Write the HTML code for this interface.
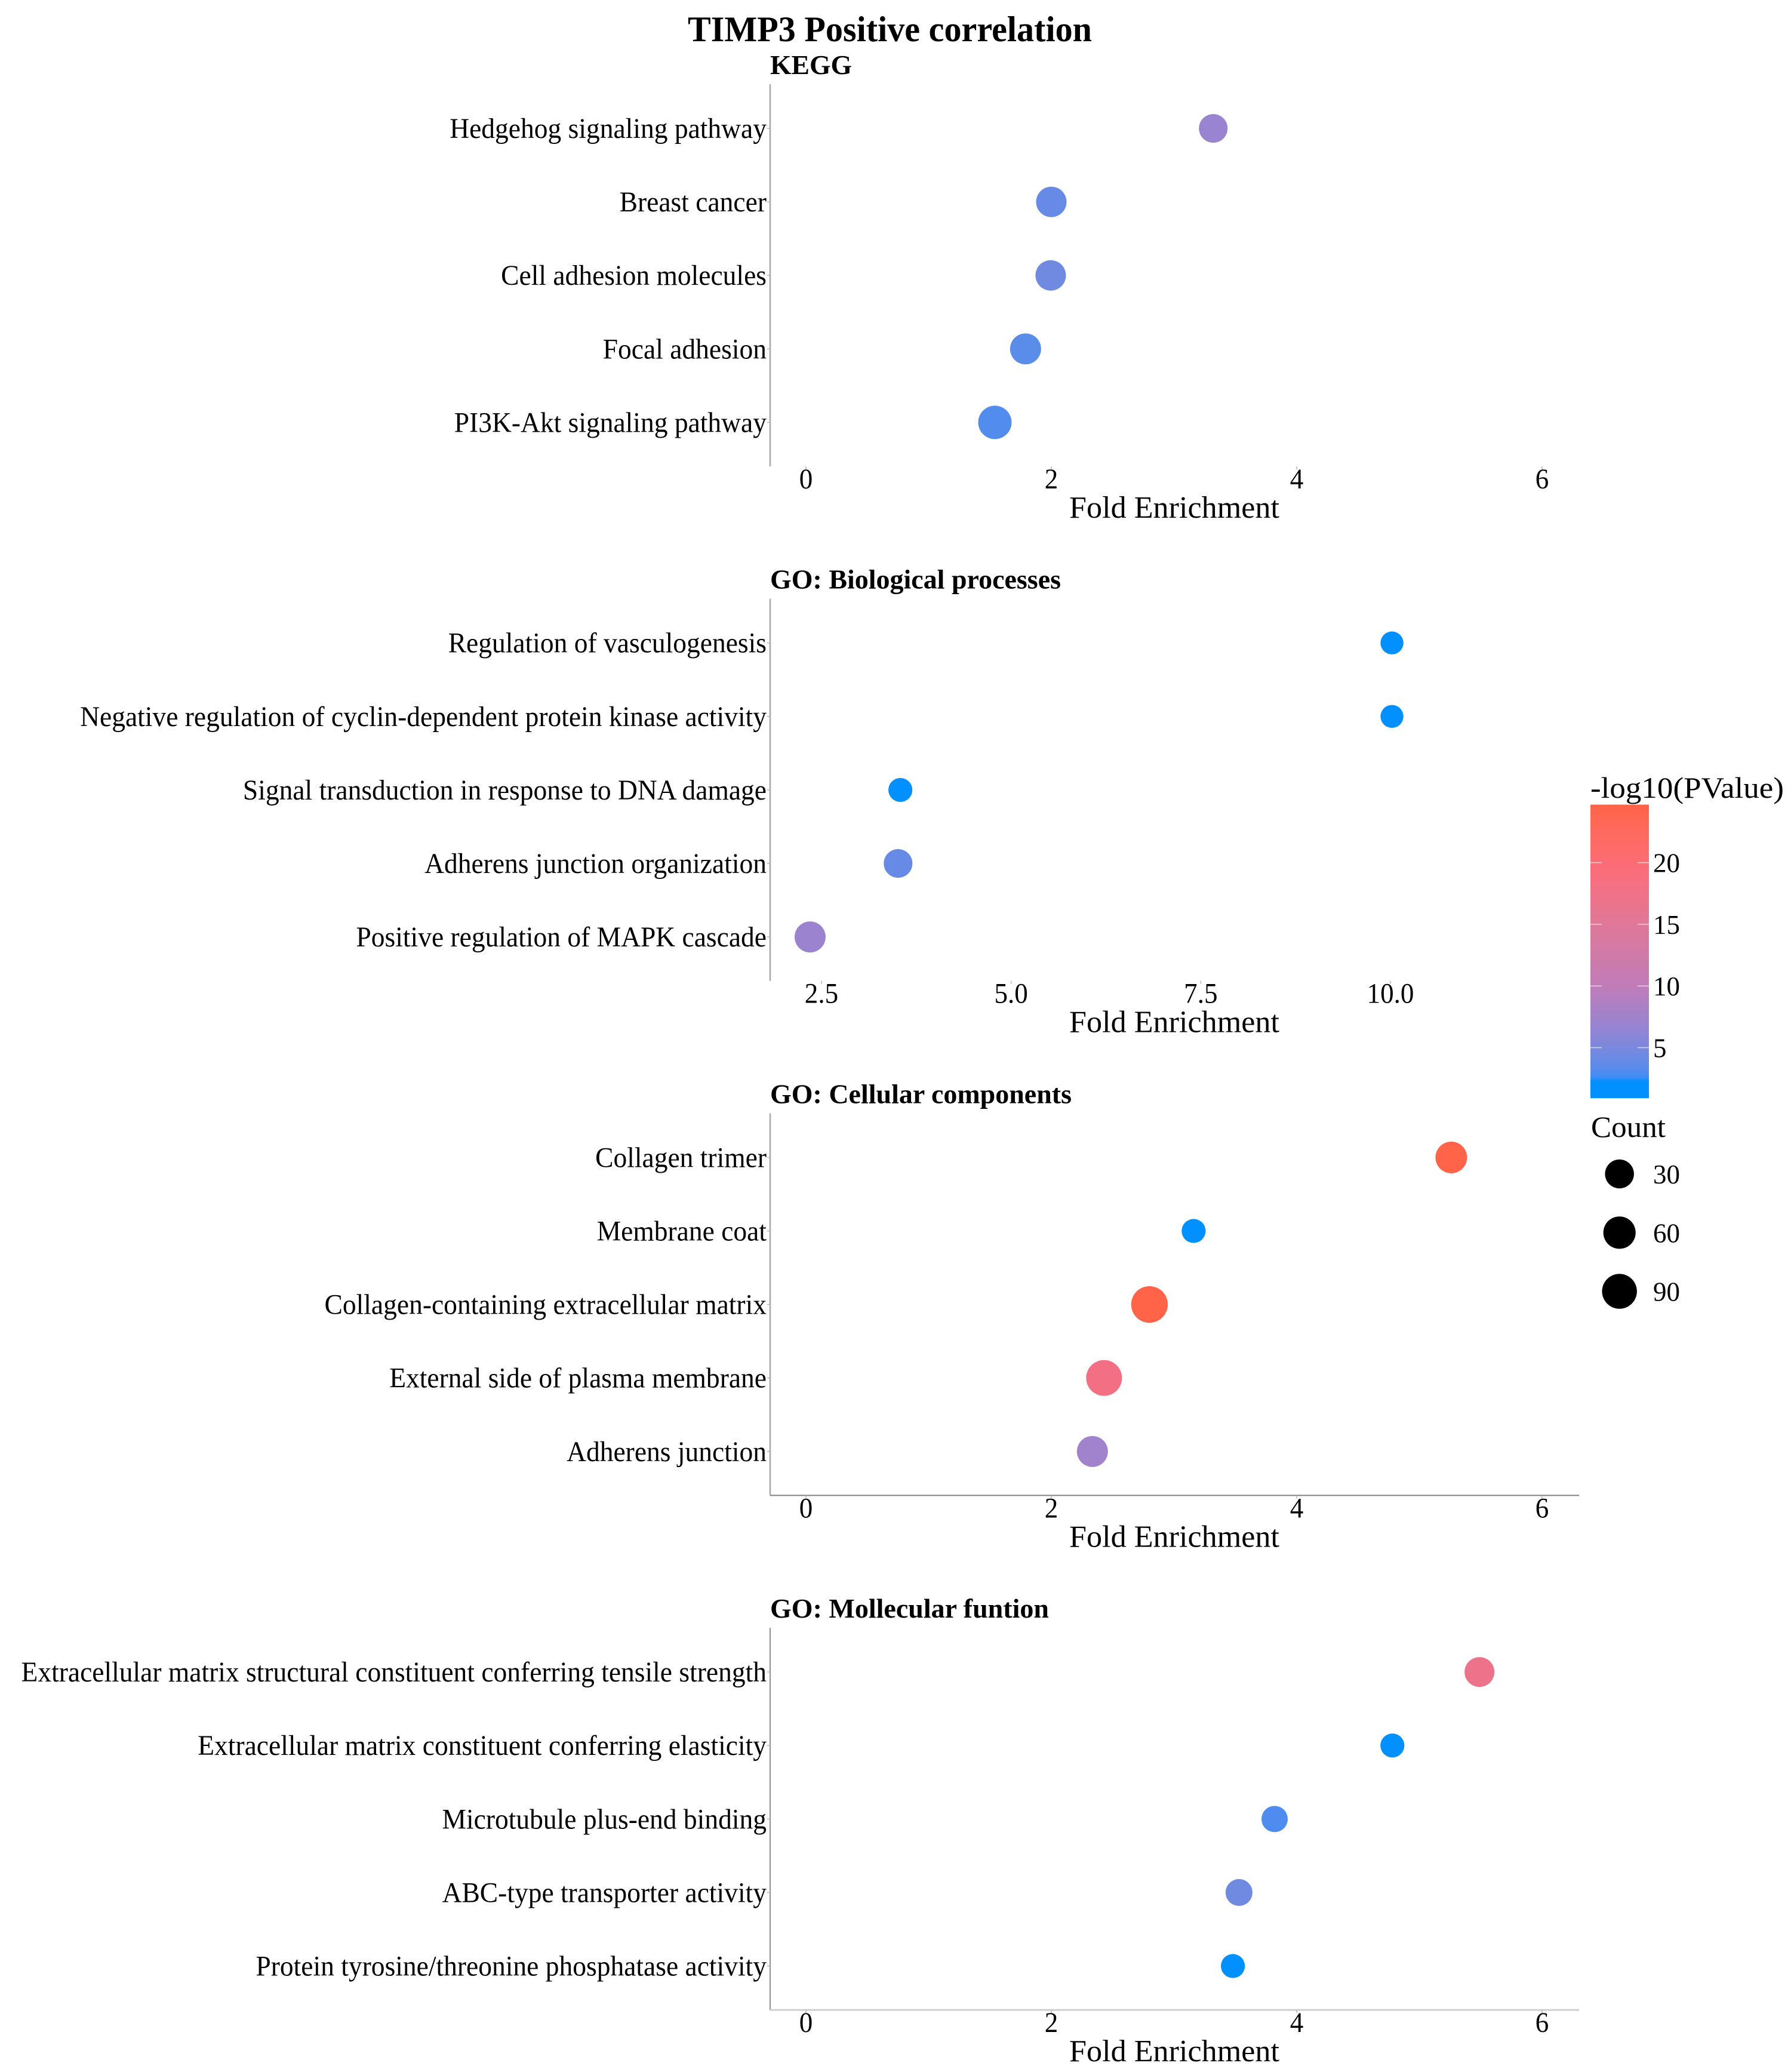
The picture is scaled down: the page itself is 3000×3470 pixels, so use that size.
<!DOCTYPE html>
<html lang="en">
<head>
<meta charset="utf-8">
<title>TIMP3 Positive correlation</title>
<style>
html,body{margin:0;padding:0;background:#fff;}
body{width:3000px;height:3470px;overflow:hidden;}
svg{display:block;}
text{font-family:"Liberation Serif","Times New Roman",serif;fill:#000;}
</style>
</head>
<body>
<svg id="chart" xmlns="http://www.w3.org/2000/svg" width="3000" height="3470" viewBox="0 0 3000 3470">
  <defs>
    <linearGradient id="pvalue-gradient" x1="0" y1="1" x2="0" y2="0"></linearGradient>
  </defs>
  <rect x="0" y="0" width="3000" height="3470" fill="#ffffff"></rect>
  <text x="1152" y="69" font-size="60" font-weight="700" textLength="677" lengthAdjust="spacingAndGlyphs">TIMP3 Positive correlation</text>
</svg>
<script>
// ---- data ----
const panelTitles = ['KEGG', 'GO: Biological processes', 'GO: Cellular components', 'GO: Mollecular funtion'];

const keggTerms = ['Hedgehog signaling pathway', 'Breast cancer', 'Cell adhesion molecules', 'Focal adhesion', 'PI3K-Akt signaling pathway'];
const keggFold = [3.32, 2.0, 1.995, 1.79, 1.54];
const keggCount = [28, 42, 42, 47, 72];
const keggLogP = [6.8, 4.0, 4.5, 3.4, 3.1];

const bioTerms = ['Regulation of vasculogenesis', 'Negative regulation of cyclin-dependent protein kinase activity', 'Signal transduction in response to DNA damage', 'Adherens junction organization', 'Positive regulation of MAPK cascade'];
const bioFold = [10.02, 10.02, 3.54, 3.51, 2.35];
const bioCount = [4, 4, 6, 28, 47];
const bioLogP = [1.5, 1.5, 2.0, 4.0, 7.0];

const cellTerms = ['Collagen trimer', 'Membrane coat', 'Collagen-containing extracellular matrix', 'External side of plasma membrane', 'Adherens junction'];
const cellFold = [5.26, 3.16, 2.80, 2.43, 2.335];
const cellCount = [53, 6, 114, 103, 47];
const cellLogP = [24.5, 1.5, 24.5, 18.0, 7.5];

const molTerms = ['Extracellular matrix structural constituent conferring tensile strength', 'Extracellular matrix constituent conferring elasticity', 'Microtubule plus-end binding', 'ABC-type transporter activity', 'Protein tyrosine/threonine phosphatase activity'];
const molFold = [5.49, 4.78, 3.82, 3.53, 3.48];
const molCount = [37, 6, 14, 17, 6];
const molLogP = [17.0, 1.5, 3.0, 4.5, 1.5];

const foldTicks = [0, 2, 4, 6];
const foldTickLabels = ['0', '2', '4', '6'];
const bioTicks = [2.5, 5, 7.5, 10];
const bioTickLabels = ['2.5', '5.0', '7.5', '10.0'];

const colorTicks = [5, 10, 15, 20];
const colorTickLabels = ['5', '10', '15', '20'];
const sizeTicks = [30, 60, 90];
const sizeTickLabels = ['30', '60', '90'];

const colorRampValues = [0.9, 2.27, 2.6, 3.2, 5, 6.3, 10, 15, 18.9, 22, 24.7];
const colorRampColors = ['#0090ff', '#0090ff', '#3f8df4', '#568cec', '#7a88dd', '#9285d5', '#c07cb8', '#e07898', '#f96e7e', '#ff6a62', '#ff6347'];

// ---- scales ----
const SVG_NS = 'http://www.w3.org/2000/svg';
const svg = document.getElementById('chart');

function panelTop(k) { return 141 + k * 861.7; }
function yBand(k, i) { return panelTop(k) + 74 + i * 123.1; }
function xFold(v) { return 1350 + v * 205.5; }
function xBio(v) { return 1376 + (v - 2.5) * 127.07; }
function sizeScale(c) { return 18 + 13 * Math.sqrt(Math.max(0, c - 3) / 117); }
function colorBarY(v) { return 1754.5 - (v - 5) * 20.66; }

function hexToRgb(h) {
  return [parseInt(h.slice(1, 3), 16), parseInt(h.slice(3, 5), 16), parseInt(h.slice(5, 7), 16)];
}
function colorScale(v) {
  const vs = colorRampValues;
  if (v <= vs[0]) return colorRampColors[0];
  for (let i = 1; i < vs.length; i++) {
    if (v <= vs[i]) {
      const t = (v - vs[i - 1]) / (vs[i] - vs[i - 1]);
      const a = hexToRgb(colorRampColors[i - 1]);
      const b = hexToRgb(colorRampColors[i]);
      const r = Math.round(a[0] + (b[0] - a[0]) * t);
      const g = Math.round(a[1] + (b[1] - a[1]) * t);
      const bl = Math.round(a[2] + (b[2] - a[2]) * t);
      return 'rgb(' + r + ',' + g + ',' + bl + ')';
    }
  }
  return colorRampColors[colorRampColors.length - 1];
}

function slug(s) { return String(s).toLowerCase().replace(/[^a-z0-9]+/g, '-').replace(/^-|-$/g, ''); }

function make(tag, attrs, parent, content) {
  const el = document.createElementNS(SVG_NS, tag);
  Object.keys(attrs).forEach(function (k) { el.setAttribute(k, attrs[k]); });
  if (content !== undefined) el.textContent = content;
  (parent || svg).appendChild(el);
  return el;
}

// The reference text is horizontally condensed relative to its height.
function condense(el, factor) {
  const w = el.getComputedTextLength();
  el.setAttribute('textLength', (w * factor).toFixed(2));
  el.setAttribute('lengthAdjust', 'spacingAndGlyphs');
}

const panels = [
  { terms: keggTerms, fold: keggFold, count: keggCount, logp: keggLogP, x: xFold, ticks: foldTicks, labels: foldTickLabels, titleW: 137, yStroke: '#a8a8a8', yWidth: 2.5, xStroke: null, xWidth: 0 },
  { terms: bioTerms, fold: bioFold, count: bioCount, logp: bioLogP, x: xBio, ticks: bioTicks, labels: bioTickLabels, titleW: 487, yStroke: '#a8a8a8', yWidth: 2.5, xStroke: null, xWidth: 0 },
  { terms: cellTerms, fold: cellFold, count: cellCount, logp: cellLogP, x: xFold, ticks: foldTicks, labels: foldTickLabels, titleW: 505, yStroke: '#a8a8a8', yWidth: 2.5, xStroke: '#808080', xWidth: 2 },
  { terms: molTerms, fold: molFold, count: molCount, logp: molLogP, x: xFold, ticks: foldTicks, labels: foldTickLabels, titleW: 467, yStroke: '#909090', yWidth: 2, xStroke: '#cfcfcf', xWidth: 3 }
];

panels.forEach(function (p, k) {
  const top = panelTop(k);
  const bottom = top + 640;
  const g = make('g', {});
  
  

  const title = make('text', { x: 1290, y: top - 17, 'font-size': 46, 'font-weight': 700, textLength: p.titleW, lengthAdjust: 'spacingAndGlyphs' }, g, panelTitles[k]);
  
  

  const yAxis = make('line', { x1: 1290, y1: top, x2: 1290, y2: bottom, stroke: p.yStroke, 'stroke-width': p.yWidth }, g);
  
  

  if (p.xStroke) {
    const xAxis = make('line', { x1: 1290, y1: bottom, x2: 2645, y2: bottom, stroke: p.xStroke, 'stroke-width': p.xWidth }, g);
    
    
  }

  p.ticks.forEach(function (t, i) {
    const px = p.x(t);
    const mark = make('line', { x1: px, y1: bottom, x2: px, y2: bottom + 5, stroke: '#b5b5b5', 'stroke-width': 1.5 }, g);
    
    
    const label = make('text', { x: px, y: top + 677, 'font-size': 48, 'text-anchor': 'middle' }, g, p.labels[i]);
    
    
    condense(label, 0.94);
  });

  const xTitle = make('text', { x: 1967, y: top + 726, 'font-size': 52, 'text-anchor': 'middle', textLength: 352, lengthAdjust: 'spacingAndGlyphs' }, g, 'Fold Enrichment');
  
  

  p.terms.forEach(function (term, i) {
    const cy = yBand(k, i);
    const mark = make('line', { x1: 1285, y1: cy, x2: 1290, y2: cy, stroke: '#b5b5b5', 'stroke-width': 1.5 }, g);
    
    
    const label = make('text', { x: 1284, y: cy + 16, 'font-size': 47.5, 'text-anchor': 'end' }, g, term);
    
    
    condense(label, 0.958);
    const dot = make('circle', { cx: p.x(p.fold[i]), cy: cy, r: sizeScale(p.count[i]), fill: colorScale(p.logp[i]) }, g);
    
    
  });
});

// ---- colour legend ----
const gradient = document.getElementById('pvalue-gradient');
colorRampValues.forEach(function (v, i) {
  const frac = (v - colorRampValues[0]) / (colorRampValues[colorRampValues.length - 1] - colorRampValues[0]);
  make('stop', { offset: (frac * 100).toFixed(2) + '%', 'stop-color': colorRampColors[i] }, gradient);
});

const colorLegend = make('g', {});



const colorTitle = make('text', { x: 2664, y: 1336, 'font-size': 50, textLength: 324, lengthAdjust: 'spacingAndGlyphs' }, colorLegend, '-log10(PValue)');



const bar = make('rect', { x: 2664, y: colorBarY(24.7), width: 98, height: colorBarY(0.9) - colorBarY(24.7), fill: 'url(#pvalue-gradient)' }, colorLegend);



colorTicks.forEach(function (t, i) {
  const y = colorBarY(t);
  const left = make('line', { x1: 2664, y1: y, x2: 2683, y2: y, stroke: '#ffffff', 'stroke-opacity': 0.65, 'stroke-width': 1.5 }, colorLegend);
  
  
  const right = make('line', { x1: 2743, y1: y, x2: 2762, y2: y, stroke: '#ffffff', 'stroke-opacity': 0.65, 'stroke-width': 1.5 }, colorLegend);
  
  
  const label = make('text', { x: 2769, y: y + 16, 'font-size': 45 }, colorLegend, colorTickLabels[i]);
  
  
});

// ---- size legend ----
const sizeLegend = make('g', {});



const sizeTitle = make('text', { x: 2665, y: 1904, 'font-size': 50, textLength: 125, lengthAdjust: 'spacingAndGlyphs' }, sizeLegend, 'Count');



sizeTicks.forEach(function (c, i) {
  const cy = 1966 + i * 98.3;
  const key = make('circle', { cx: 2712.7, cy: cy, r: sizeScale(c), fill: '#000000' }, sizeLegend);
  
  
  const label = make('text', { x: 2769, y: cy + 16, 'font-size': 45 }, sizeLegend, sizeTickLabels[i]);
  
  
});
</script>
</body>
</html>
